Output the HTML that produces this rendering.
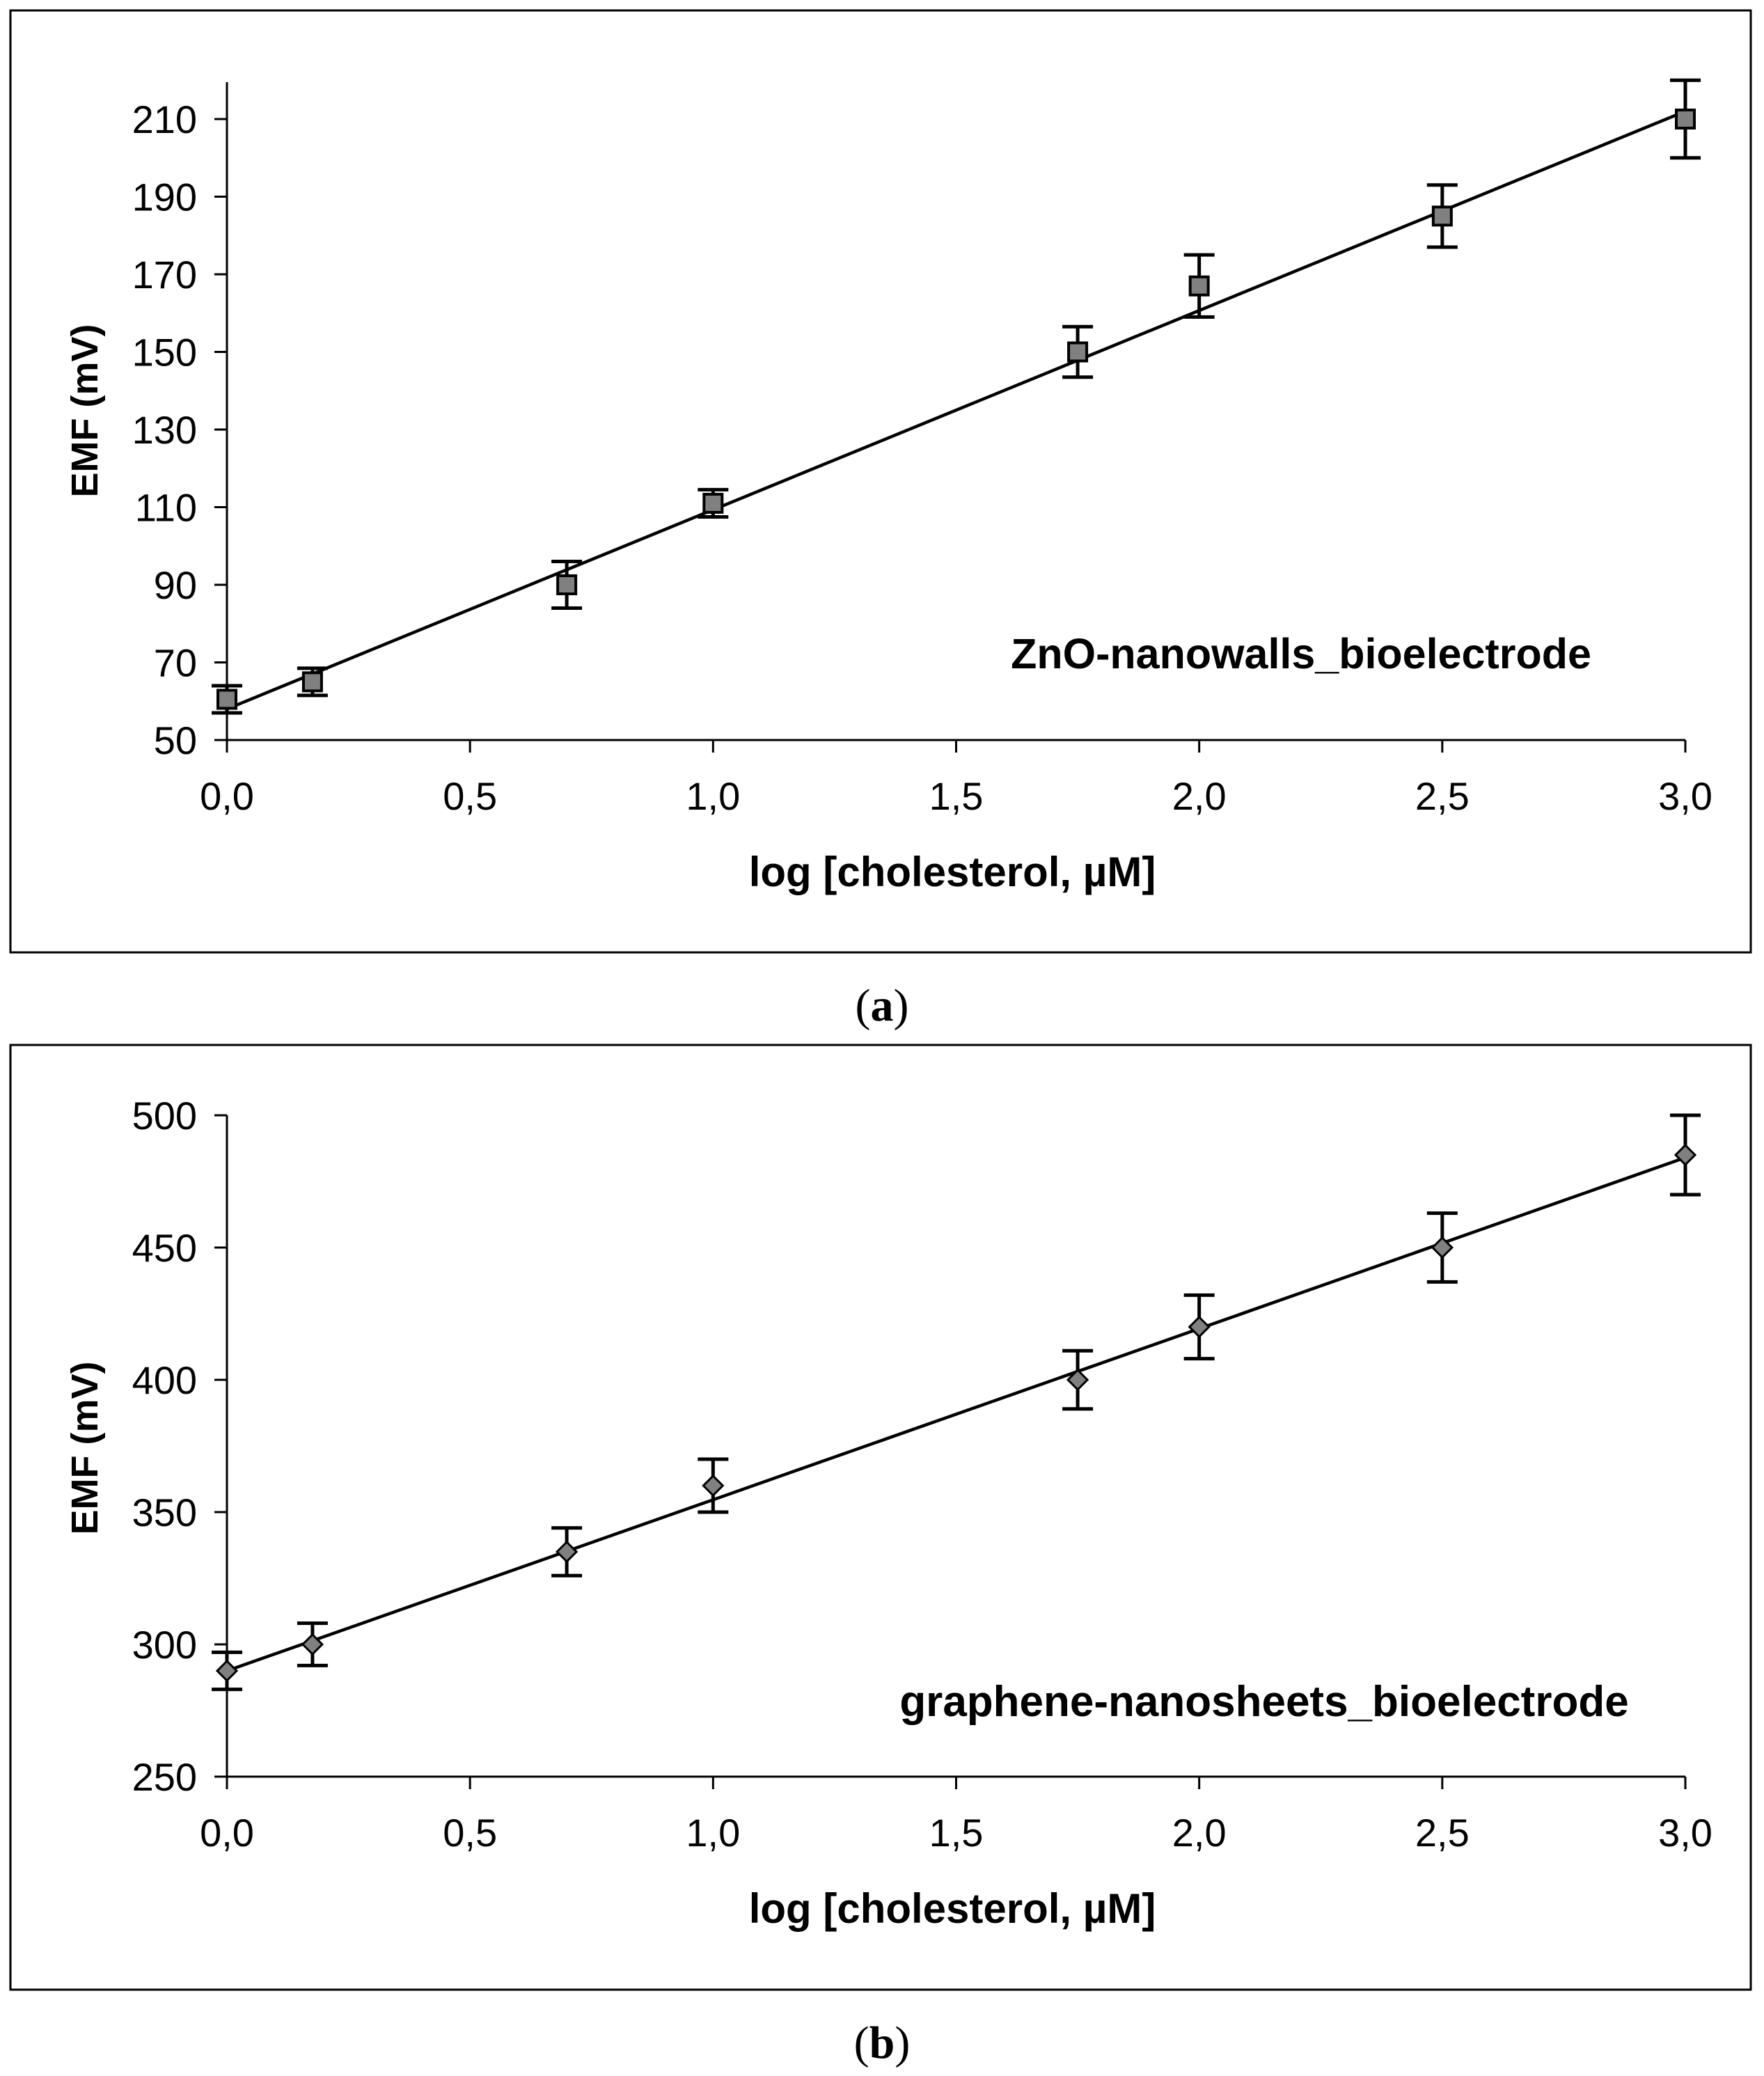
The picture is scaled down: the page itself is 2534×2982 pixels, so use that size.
<!DOCTYPE html>
<html><head><meta charset="utf-8"><style>
html,body{margin:0;padding:0;background:#fff}
svg{display:block}
text{font-family:"Liberation Sans",Arial,sans-serif}
</style></head><body>
<svg id="fig" width="2534" height="2982" viewBox="0 0 2534 2982">
<rect x="15" y="15" width="2500" height="1353" fill="none" stroke="#000" stroke-width="3"/>
<rect x="15" y="1501" width="2500" height="1357" fill="none" stroke="#000" stroke-width="3"/>
<text x="1267" y="1466" font-size="66" text-anchor="middle" style="font-family:'Liberation Serif',serif">(<tspan font-weight="bold">a</tspan>)</text>
<text x="1267" y="2956" font-size="66" text-anchor="middle" style="font-family:'Liberation Serif',serif">(<tspan font-weight="bold">b</tspan>)</text>
<g id="ga"></g><g id="gb"></g>
</svg>
<script>
const xA = [0, 0.176, 0.699, 1.0, 1.75, 2.0, 2.5, 3.0];
const yA = [60.5, 65, 90, 111, 150, 167, 185, 210];
const eA = [3.5, 3.5, 6, 3.5, 6.5, 8, 8, 10];
const fitA = [58, 212];
const yTicksA = [50, 70, 90, 110, 130, 150, 170, 190, 210];
const xB = [0, 0.176, 0.699, 1.0, 1.75, 2.0, 2.5, 3.0];
const yB = [290, 300, 335, 360, 400, 420, 450, 485];
const eB = [7, 8, 9, 10, 11, 12, 13, 15];
const fitB = [290, 484];
const yTicksB = [250, 300, 350, 400, 450, 500];
const xTicks = [0, 0.5, 1.0, 1.5, 2.0, 2.5, 3.0];
const xTickLabels = ["0,0","0,5","1,0","1,5","2,0","2,5","3,0"];

const NS = "http://www.w3.org/2000/svg";
function mk(parent, tag, attrs) {
  const el = document.createElementNS(NS, tag);
  for (const k in attrs) el.setAttribute(k, attrs[k]);
  parent.appendChild(el);
  return el;
}
function draw(g, cfg) {
  const X0 = 326, X1 = 2421;
  const sx = v => X0 + (v - 0) / 3 * (X1 - X0);
  const sy = v => cfg.py0 + (v - cfg.ymin) / (cfg.ymax - cfg.ymin) * (cfg.py1 - cfg.py0);
  let l = mk(g, "line", {x1: X0, y1: cfg.axTop, x2: X0, y2: cfg.py0, stroke: "#000", "stroke-width": 3});
  
  
  l = mk(g, "line", {x1: X0 - 18, y1: cfg.py0, x2: X1, y2: cfg.py0, stroke: "#000", "stroke-width": 3});
  
  
  cfg.yTicks.forEach(v => {
    const y = sy(v);
    const t = mk(g, "line", {x1: X0 - 18, y1: y, x2: X0, y2: y, stroke: "#000", "stroke-width": 3});
    
    
    const tx = mk(g, "text", {x: 283, y: y + 20, "font-size": 56, "text-anchor": "end"});
    tx.textContent = v;
    
    
  });
  xTicks.forEach((v, i) => {
    const x = sx(v);
    const t = mk(g, "line", {x1: x, y1: cfg.py0, x2: x, y2: cfg.py0 + 18, stroke: "#000", "stroke-width": 3});
    
    
    const tx = mk(g, "text", {x: x, y: cfg.py0 + 100, "font-size": 56, "text-anchor": "middle"});
    tx.textContent = xTickLabels[i];
    
    
  });
  let tt = mk(g, "text", {x: 1368, y: cfg.py0 + 210, "font-size": 60, "font-weight": "bold", "text-anchor": "middle"});
  tt.textContent = "log [cholesterol, µM]";
  
  
  tt = mk(g, "text", {x: 0, y: 0, "font-size": 54, "font-weight": "bold", "text-anchor": "middle", transform: `translate(140,${cfg.ytitleY}) rotate(-90)`});
  tt.textContent = "EMF (mV)";
  
  
  tt = mk(g, "text", {x: cfg.annX, y: cfg.annY, "font-size": cfg.annSize, "font-weight": "bold", "text-anchor": "middle"});
  tt.textContent = cfg.ann;
  
  
  const fl = mk(g, "line", {x1: sx(0), y1: sy(cfg.fit[0]), x2: sx(3), y2: sy(cfg.fit[1]), stroke: "#000", "stroke-width": 4.5});
  
  
  cfg.xs.forEach((xv, i) => {
    const x = sx(xv), y = sy(cfg.ys[i]), yt = sy(cfg.ys[i] + cfg.es[i]), yb = sy(cfg.ys[i] - cfg.es[i]);
    const eb = mk(g, "path", {d: `M${x},${yt}V${yb}M${x-22},${yt}H${x+22}M${x-22},${yb}H${x+22}`, stroke: "#000", "stroke-width": 5, fill: "none"});
    
    
    let m;
    if (cfg.marker === "square") {
      m = mk(g, "rect", {x: x - 13, y: y - 13, width: 26, height: 26, fill: "#808080", stroke: "#000", "stroke-width": 4});
    } else {
      m = mk(g, "path", {d: `M${x},${y-14}L${x+14},${y}L${x},${y+14}L${x-14},${y}Z`, fill: "#808080", stroke: "#000", "stroke-width": 3});
    }
    
    
  });
}
draw(document.getElementById("ga"), {py0: 1063, py1: 171, ymin: 50, ymax: 210, axTop: 118, yTicks: yTicksA,
  xs: xA, ys: yA, es: eA, fit: fitA, marker: "square", ann: "ZnO-nanowalls_bioelectrode", annSize: 61, annX: 1869, annY: 960, ytitleY: 590});
draw(document.getElementById("gb"), {py0: 2552, py1: 1602, ymin: 250, ymax: 500, axTop: 1602, yTicks: yTicksB,
  xs: xB, ys: yB, es: eB, fit: fitB, marker: "diamond", ann: "graphene-nanosheets_bioelectrode", annSize: 62, annX: 1816, annY: 2465, ytitleY: 2080});
</script>
</body></html>
